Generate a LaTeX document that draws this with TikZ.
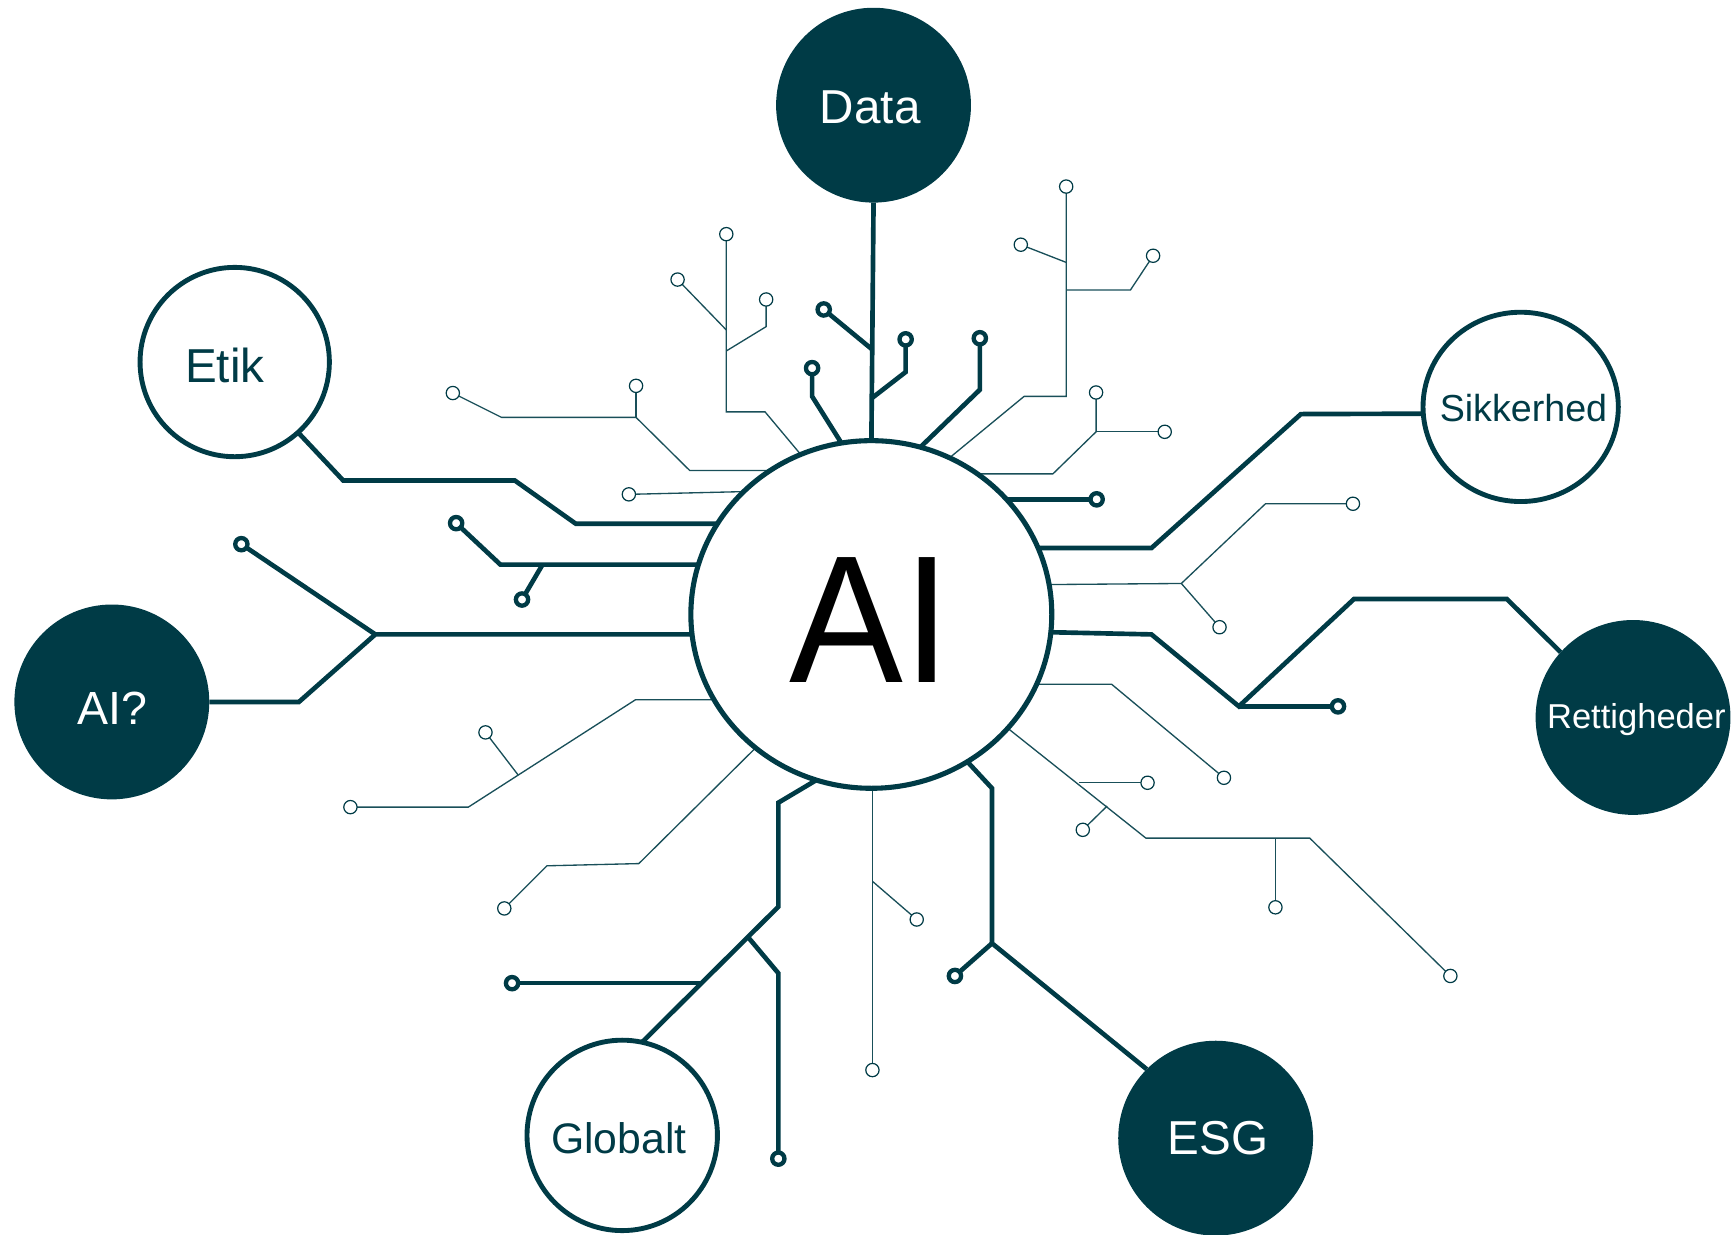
\documentclass[tikz,border=0pt]{standalone}
\usepackage{fontspec}
\setmainfont{Liberation Sans}
\usetikzlibrary{shapes.geometric,backgrounds}
\definecolor{teal}{HTML}{003B46}
\tikzset{
  big/.style={circle,minimum size=88pt,inner sep=0pt,outer sep=0pt,text centered},
  solidc/.style={big,fill=teal,text=white},
  ringc/.style={big,minimum size=85.5pt,draw=teal,line width=2.2pt,fill=white,text=teal},
  heavy/.style={draw=teal,line width=2.1pt,line join=miter},
  fine/.style={draw=teal!90!white,line width=0.6pt,line join=miter},
  tth/.style={circle,draw=teal,line width=1.95pt,fill=white,minimum size=5.55pt,inner sep=0pt,outer sep=0pt},
  ttn/.style={circle,draw=teal,line width=0.55pt,fill=white,minimum size=6pt,inner sep=0pt,outer sep=0pt},
}
\begin{document}
\begin{tikzpicture}[x=0.5pt,y=-0.5pt]
\useasboundingbox (0,0) rectangle (1568,1114.6);
% main nodes
\node[ellipse,draw=teal,line width=2.3pt,fill=white,minimum width=163pt,minimum height=157pt,inner sep=0pt,outer sep=0pt] (hub) at (787,555) {};
\node[font=\fontsize{82}{82}\selectfont,text=black,inner sep=0pt,xscale=0.94] (hubt) at (786,560) {AI};
\node[solidc] (data) at (789,95) {};
\node[text=white,font=\fontsize{21.5}{24}\selectfont] (datat) at (786,97) {Data};
\node[ringc] (etik) at (212,327) {};
\node[text=teal,font=\fontsize{21.5}{24}\selectfont] (etikt) at (203,330) {Etik};
\node[ellipse,draw=teal,line width=2.2pt,fill=white,minimum width=88.2pt,minimum height=85.5pt,inner sep=0pt,outer sep=0pt] (sik) at (1373.5,367.5) {};
\node[text=teal,font=\fontsize{17}{20}\selectfont] (sikt) at (1376,368.5) {Sikkerhed};
\node[solidc] (ret) at (1475,648) {};
\node[text=white,font=\fontsize{15.6}{18}\selectfont] (rett) at (1478,650) {Rettigheder};
\node[solidc] (esg) at (1098,1028) {};
\node[text=white,font=\fontsize{21.5}{24}\selectfont] (esgt) at (1100,1028) {ESG};
\node[ringc,minimum size=86pt] (glo) at (562,1025.5) {};
\node[text=teal,font=\fontsize{19.3}{22}\selectfont] (glot) at (559,1028) {Globalt};
\node[solidc] (aiq) at (101,634) {};
\node[text=white,font=\fontsize{21}{24}\selectfont] (aiqt) at (101.5,640) {AI?};
% heavy terminals
\node[tth] (a1) at (744,279.5) {};
\node[tth] (a2) at (818,306.5) {};
\node[tth] (a3) at (733.5,332.5) {};
\node[tth] (a4) at (885,305.5) {};
\node[tth] (a5) at (990.5,451) {};
\node[tth] (a6) at (412,472.5) {};
\node[tth] (a7) at (471.5,541.5) {};
\node[tth] (a8) at (218,491.5) {};
\node[tth] (a9) at (1208.5,638) {};
\node[tth] (a10) at (862.5,881.5) {};
\node[tth] (a11) at (462.5,888) {};
\node[tth] (a12) at (703,1046.5) {};
% fine terminals
\node[ttn] (b1) at (409,355) {};
\node[ttn] (b2) at (574.5,348.5) {};
\node[ttn] (b3) at (568,446.5) {};
\node[ttn] (b4) at (656,211.5) {};
\node[ttn] (b5) at (612,252.5) {};
\node[ttn] (b6) at (692,270.5) {};
\node[ttn] (b7) at (963,168.5) {};
\node[ttn] (b8) at (922,221) {};
\node[ttn] (b9) at (1041.5,231) {};
\node[ttn] (b10) at (990,354.5) {};
\node[ttn] (b11) at (1052,390) {};
\node[ttn] (b12) at (1222,455) {};
\node[ttn] (b13) at (1101.5,566.5) {};
\node[ttn] (b14) at (1105.5,702.5) {};
\node[ttn] (b15) at (1036.5,707) {};
\node[ttn] (b16) at (978,749.5) {};
\node[ttn] (b17) at (1152,819.5) {};
\node[ttn] (b18) at (1310,881.5) {};
\node[ttn] (b19) at (788,966.5) {};
\node[ttn] (b20) at (828,830.5) {};
\node[ttn] (b21) at (455.5,820.5) {};
\node[ttn] (b22) at (316.5,729) {};
\node[ttn] (b23) at (438.5,661.5) {};
% junctions
\coordinate (j1) at (787,315);
\coordinate (j2) at (787,360);
\coordinate (j3) at (490,510);
\coordinate (j4) at (339,573);
\coordinate (j5) at (1119,638);
\coordinate (j6) at (896,852);
\coordinate (j7) at (632,888);
\coordinate (j8) at (675.3,846);
\coordinate (f1) at (574.5,377);
\coordinate (f2) at (656,298);
\coordinate (f3) at (656,317);
\coordinate (f4) at (963,237);
\coordinate (f5) at (963,262);
\coordinate (f6) at (990,390);
\coordinate (f7) at (1067,527);
\coordinate (f8) at (1035,757);
\coordinate (f9) at (1152,757);
\coordinate (f10) at (975,707);
\coordinate (f11) at (1000,728);
\coordinate (f12) at (788,796);
\coordinate (f13) at (468,700);
% ports hidden just inside the hub outline
\coordinate (p1) at (787,405);
\coordinate (p2) at (763,405);
\coordinate (p3) at (826,409);
\coordinate (p4) at (652,473);
\coordinate (p5) at (934,495);
\coordinate (p6) at (908,451);
\coordinate (p7) at (632,510);
\coordinate (p8) at (627,573);
\coordinate (p9) at (947,571);
\coordinate (p10) at (871,685);
\coordinate (p11) at (740,703);
\coordinate (q1) at (697,425);
\coordinate (q2) at (673,444);
\coordinate (q3) at (727,415);
\coordinate (q4) at (854,416.5);
\coordinate (q5) at (879,428);
\coordinate (q6) at (945,528);
\coordinate (q7) at (935,618);
\coordinate (q8) at (908,656);
\coordinate (q9) at (788,707);
\coordinate (q10) at (685,673);
\coordinate (q11) at (647,632);
\begin{scope}[on background layer]
% heavy connectors
\path[heavy] (data.south) -- (p1);
\path[heavy] (j1) -- (a1);
\path[heavy] (j2) -- (818,336) -- (a2);
\path[heavy] (a3) -- (733.5,358) -- (p2);
\path[heavy] (a4) -- (885,352) -- (p3);
\path[heavy] (etik.-48) -- (310,434) -- (465,434) -- (520,473) -- (p4);
\path[heavy] (sik.184) -- (1175,374) -- (1040,495) -- (p5);
\path[heavy] (a5) -- (908,451);
\path[heavy] (a6) -- (452,510) -- (p7);
\path[heavy] (j3) -- (a7);
\path[heavy] (aiq.east) -- (270,634) -- (j4) -- (p8);
\path[heavy] (j4) -- (a8);
\path[heavy] (ret.138) -- (1361,541) -- (1223,541) -- (j5) -- (1040,573) -- (p9);
\path[heavy] (j5) -- (a9);
\path[heavy] (esg.135) -- (j6) -- (896,712) -- (p10);
\path[heavy] (j6) -- (a10);
\path[heavy] (glo.78) -- (703,819) -- (703,725) -- (p11);
\path[heavy] (j7) -- (a11);
\path[heavy] (j8) -- (703,879) -- (a12);
% fine connectors
\path[fine] (b1) -- (453,377) -- (f1) -- (623,425) -- (q1);
\path[fine] (f1) -- (b2);
\path[fine] (b3) -- (q2);
\path[fine] (b4) -- (656,372) -- (691,372) -- (q3);
\path[fine] (b5) -- (f2);
\path[fine] (b6) -- (692,295) -- (f3);
\path[fine] (b7) -- (963,358) -- (925,358) -- (q4);
\path[fine] (b8) -- (f4);
\path[fine] (b9) -- (1021,262) -- (f5);
\path[fine] (q5) -- (951,428) -- (f6) -- (b10);
\path[fine] (f6) -- (b11);
\path[fine] (b12) -- (1143,455) -- (f7) -- (q6);
\path[fine] (f7) -- (b13);
\path[fine] (q7) -- (1004,618) -- (b14);
\path[fine] (q8) -- (f8) -- (1183,757) -- (b18);
\path[fine] (f9) -- (b17);
\path[fine] (f10) -- (b15);
\path[fine] (f11) -- (b16);
\path[fine] (q9) -- (b19);
\path[fine] (f12) -- (b20);
\path[fine] (q10) -- (577,780) -- (494,782) -- (b21);
\path[fine] (q11) -- (574,632) -- (423,729) -- (b22);
\path[fine] (f13) -- (b23);
\end{scope}
\end{tikzpicture}
\end{document}
